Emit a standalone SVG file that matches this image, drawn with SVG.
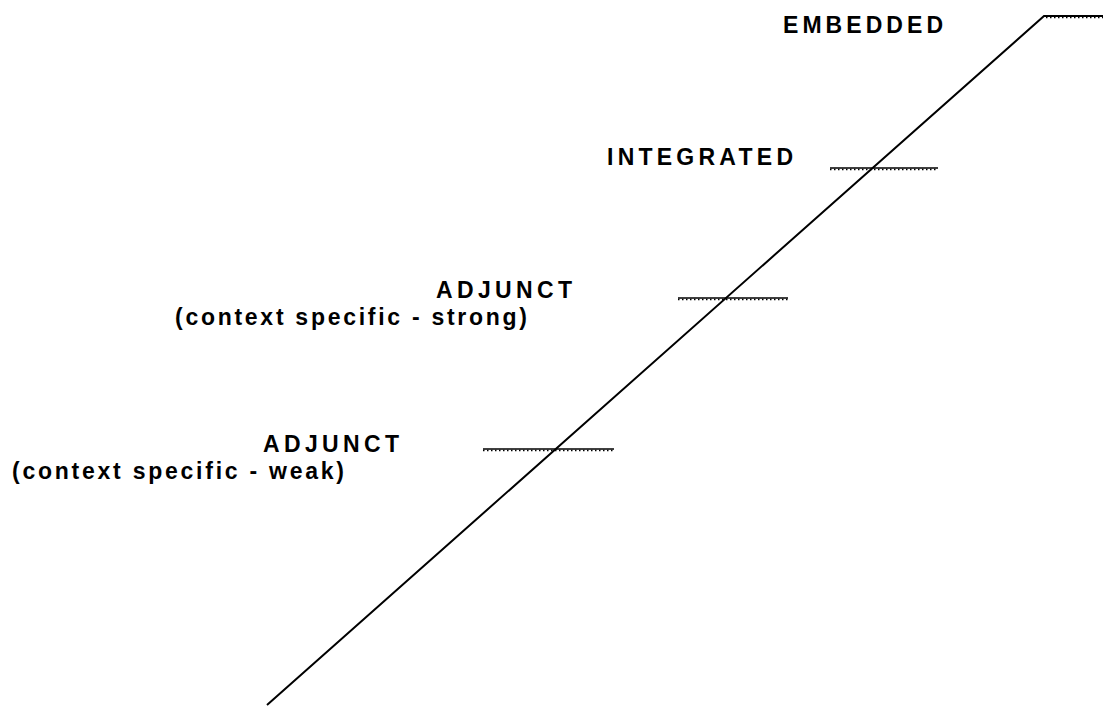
<svg xmlns="http://www.w3.org/2000/svg" width="1103" height="709" viewBox="0 0 1103 709">
<style>
.t{font-family:"Liberation Sans",Arial,sans-serif;font-weight:bold;font-size:23px;fill:#000}
.ln{stroke:#000;stroke-width:2;fill:none}
.tick{stroke:#000;stroke-width:1.5;fill:none}
.hatch{stroke:#000;stroke-width:1.5;fill:none;stroke-dasharray:1.5 2.5}
</style>
<rect width="1103" height="709" fill="#fff"/>
<g id="connectors">
<polyline class="ln" points="267,705 1044,16 1103,16"/>
<line class="tick" x1="830" y1="168" x2="938" y2="168"/>
<line class="hatch" x1="830" y1="169.5" x2="938" y2="169.5"/>
<line class="tick" x1="678" y1="298" x2="788" y2="298"/>
<line class="hatch" x1="678" y1="299.5" x2="788" y2="299.5"/>
<line class="tick" x1="483" y1="449" x2="614" y2="449"/>
<line class="hatch" x1="483" y1="450.5" x2="614" y2="450.5"/>
<line class="tick" x1="1044" y1="16" x2="1103" y2="16"/>
<line class="hatch" x1="1046" y1="17.5" x2="1103" y2="17.5"/>
</g>
<g id="embedded"><text class="t" x="783" y="33" textLength="160" lengthAdjust="spacing">EMBEDDED</text></g>
<g id="integrated"><text class="t" x="607" y="165" textLength="186" lengthAdjust="spacing">INTEGRATED</text></g>
<g id="adjunct-strong">
<text class="t" x="436" y="298" textLength="136" lengthAdjust="spacing">ADJUNCT</text>
<text class="t" x="175" y="325" textLength="352" lengthAdjust="spacing">(context specific - strong)</text>
</g>
<g id="adjunct-weak">
<text class="t" x="263" y="452" textLength="136" lengthAdjust="spacing">ADJUNCT</text>
<text class="t" x="12" y="479" textLength="332" lengthAdjust="spacing">(context specific - weak)</text>
</g>
</svg>
